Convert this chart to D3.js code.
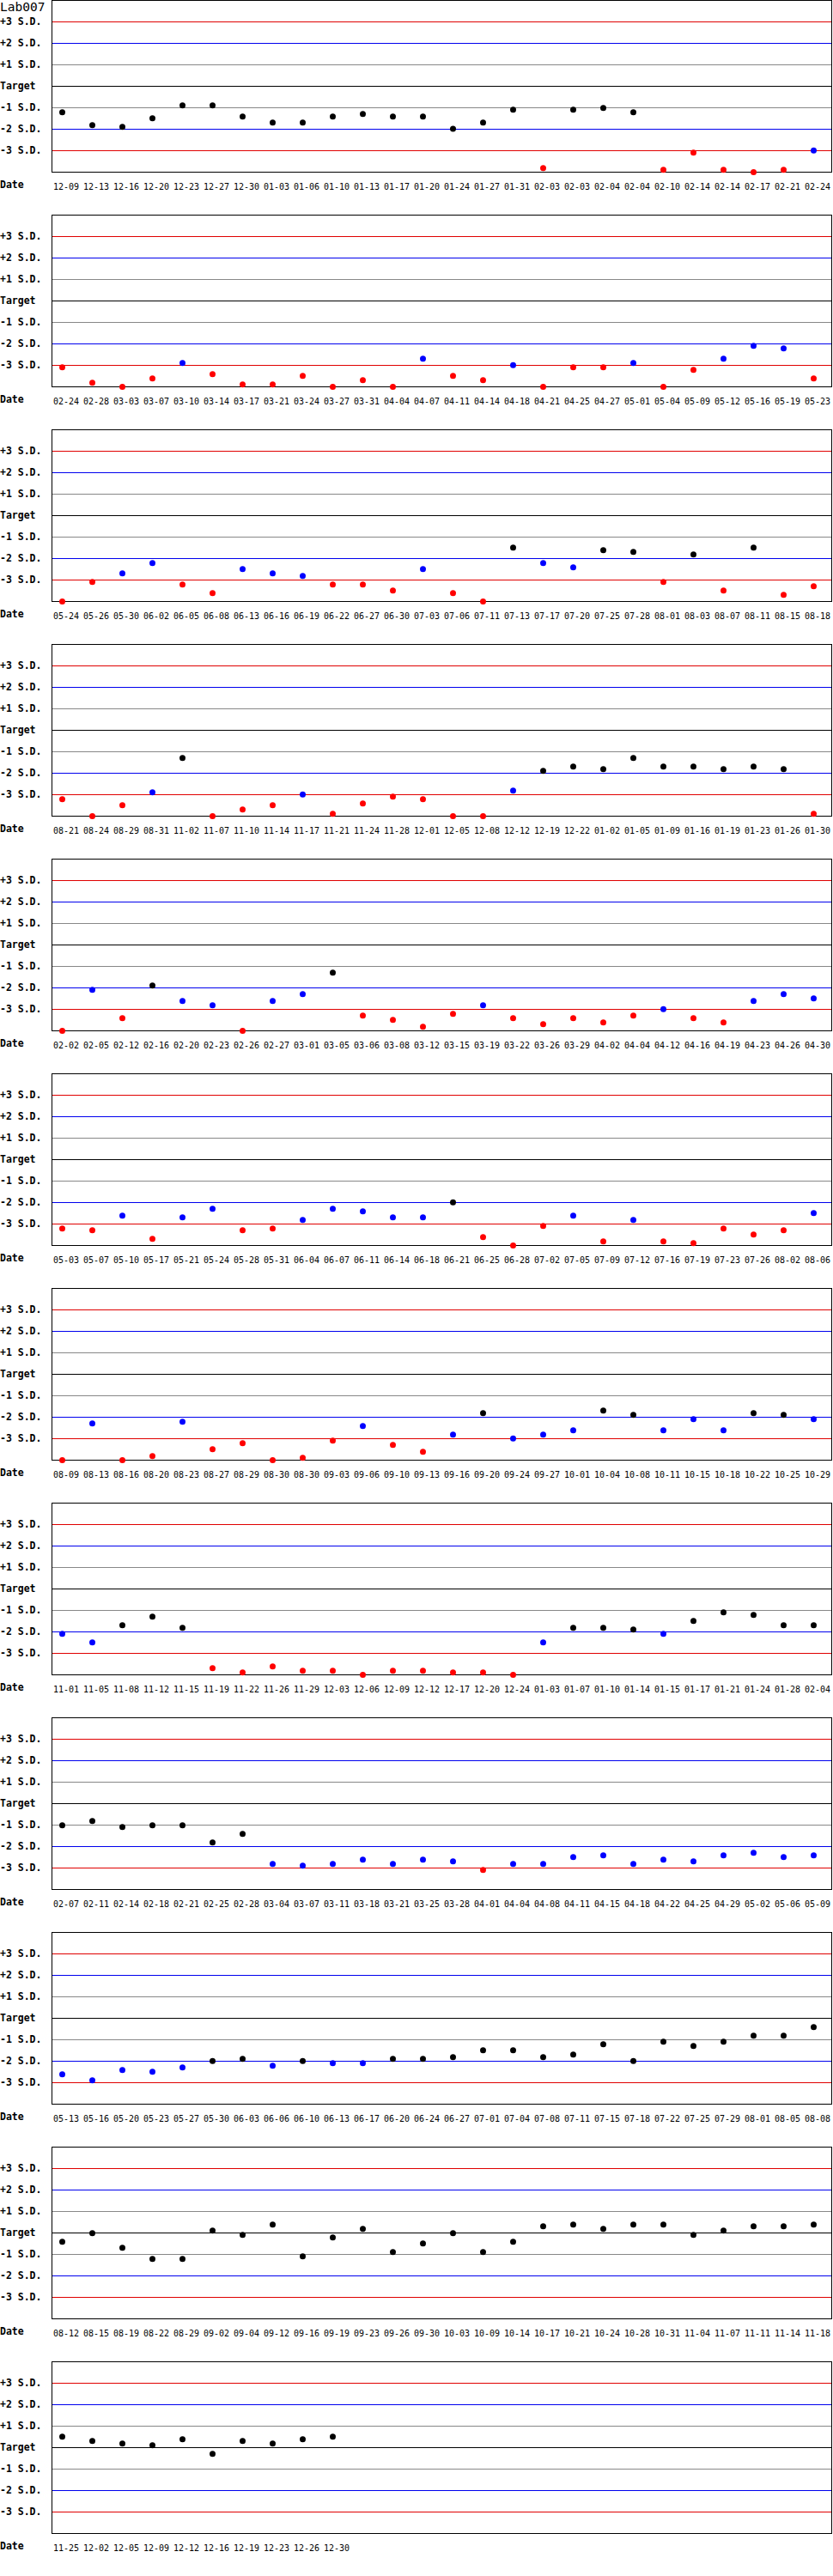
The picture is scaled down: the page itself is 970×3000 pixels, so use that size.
<!DOCTYPE html>
<html>
<head>
<meta charset="utf-8">
<script src="https://cdn.jsdelivr.net/npm/d3@7"></script>
<style>
  html, body { margin: 0; padding: 0; background: #fff; }
  svg { display: block; }
  .tick-label { font-family: "DejaVu Sans Mono", monospace; font-size: 10px; fill: #000; }
  .sd-label { font-family: "DejaVu Sans Mono", monospace; font-size: 11.5px; font-weight: bold; fill: #000; }
  .title { font-family: "DejaVu Sans Mono", monospace; font-size: 14.5px; fill: #000; }
</style>
</head>
<body>
<script>
const chartTitle = "Lab007";
const axisLabel = "Date";
const sdLevels = [3, 2, 1, 0, -1, -2, -3];
const sdLabels = ["+3 S.D.", "+2 S.D.", "+1 S.D.", "Target", "-1 S.D.", "-2 S.D.", "-3 S.D."];

const dates1 = ["12-09","12-13","12-16","12-20","12-23","12-27","12-30","01-03","01-06","01-10","01-13","01-17","01-20","01-24","01-27","01-31","02-03","02-03","02-04","02-04","02-10","02-14","02-14","02-17","02-21","02-24"];
const values1 = [-1.21,-1.81,-1.89,-1.49,-0.89,-0.89,-1.41,-1.69,-1.69,-1.41,-1.29,-1.41,-1.41,-1.98,-1.69,-1.09,-3.81,-1.09,-1.01,-1.21,-3.89,-3.09,-3.89,-4.0,-3.89,-2.99];

const dates2 = ["02-24","02-28","03-03","03-07","03-10","03-14","03-17","03-21","03-24","03-27","03-31","04-04","04-07","04-11","04-14","04-18","04-21","04-25","04-27","05-01","05-04","05-09","05-12","05-16","05-19","05-23"];
const values2 = [-3.09,-3.81,-4.0,-3.61,-2.89,-3.41,-3.89,-3.89,-3.49,-4.0,-3.69,-4.0,-2.69,-3.49,-3.69,-2.99,-4.0,-3.09,-3.09,-2.89,-4.0,-3.21,-2.69,-2.09,-2.21,-3.61];

const dates3 = ["05-24","05-26","05-30","06-02","06-05","06-08","06-13","06-16","06-19","06-22","06-27","06-30","07-03","07-06","07-11","07-13","07-17","07-20","07-25","07-28","08-01","08-03","08-07","08-11","08-15","08-18"];
const values3 = [-4.0,-3.09,-2.69,-2.21,-3.21,-3.61,-2.49,-2.69,-2.81,-3.21,-3.21,-3.49,-2.49,-3.61,-4.0,-1.49,-2.21,-2.41,-1.61,-1.69,-3.09,-1.81,-3.49,-1.49,-3.69,-3.29];

const dates4 = ["08-21","08-24","08-29","08-31","11-02","11-07","11-10","11-14","11-17","11-21","11-24","11-28","12-01","12-05","12-08","12-12","12-19","12-22","01-02","01-05","01-09","01-16","01-19","01-23","01-26","01-30"];
const values4 = [-3.21,-4.0,-3.49,-2.89,-1.29,-4.0,-3.69,-3.49,-2.99,-3.89,-3.41,-3.09,-3.21,-4.0,-4.0,-2.81,-1.89,-1.69,-1.81,-1.29,-1.69,-1.69,-1.81,-1.69,-1.81,-3.89];

const dates5 = ["02-02","02-05","02-12","02-16","02-20","02-23","02-26","02-27","03-01","03-05","03-06","03-08","03-12","03-15","03-19","03-22","03-26","03-29","04-02","04-04","04-12","04-16","04-19","04-23","04-26","04-30"];
const values5 = [-4.0,-2.09,-3.41,-1.89,-2.61,-2.81,-4.0,-2.61,-2.29,-1.29,-3.29,-3.49,-3.81,-3.21,-2.81,-3.41,-3.69,-3.41,-3.61,-3.29,-2.99,-3.41,-3.61,-2.61,-2.29,-2.49];

const dates6 = ["05-03","05-07","05-10","05-17","05-21","05-24","05-28","05-31","06-04","06-07","06-11","06-14","06-18","06-21","06-25","06-28","07-02","07-05","07-09","07-12","07-16","07-19","07-23","07-26","08-02","08-06"];
const values6 = [-3.21,-3.29,-2.61,-3.69,-2.69,-2.29,-3.29,-3.21,-2.81,-2.29,-2.41,-2.69,-2.69,-1.99,-3.61,-4.0,-3.09,-2.61,-3.81,-2.81,-3.81,-3.89,-3.21,-3.49,-3.29,-2.49];

const dates7 = ["08-09","08-13","08-16","08-20","08-23","08-27","08-29","08-30","08-30","09-03","09-06","09-10","09-13","09-16","09-20","09-24","09-27","10-01","10-04","10-08","10-11","10-15","10-18","10-22","10-25","10-29"];
const values7 = [-4.0,-2.29,-4.0,-3.81,-2.21,-3.49,-3.21,-4.0,-3.89,-3.09,-2.41,-3.29,-3.61,-2.81,-1.81,-2.99,-2.81,-2.61,-1.69,-1.89,-2.61,-2.09,-2.61,-1.81,-1.89,-2.09];

const dates8 = ["11-01","11-05","11-08","11-12","11-15","11-19","11-22","11-26","11-29","12-03","12-06","12-09","12-12","12-17","12-20","12-24","01-03","01-07","01-10","01-14","01-15","01-17","01-21","01-24","01-28","02-04"];
const values8 = [-2.09,-2.49,-1.69,-1.29,-1.81,-3.69,-3.89,-3.61,-3.81,-3.81,-4.0,-3.81,-3.81,-3.89,-3.89,-4.0,-2.49,-1.81,-1.81,-1.89,-2.09,-1.49,-1.09,-1.21,-1.69,-1.69];

const dates9 = ["02-07","02-11","02-14","02-18","02-21","02-25","02-28","03-04","03-07","03-11","03-18","03-21","03-25","03-28","04-01","04-04","04-08","04-11","04-15","04-18","04-22","04-25","04-29","05-02","05-06","05-09"];
const values9 = [-1.01,-0.81,-1.09,-1.01,-1.01,-1.81,-1.41,-2.81,-2.89,-2.81,-2.61,-2.81,-2.61,-2.69,-3.09,-2.81,-2.81,-2.49,-2.41,-2.81,-2.61,-2.69,-2.41,-2.29,-2.49,-2.41];

const dates10 = ["05-13","05-16","05-20","05-23","05-27","05-30","06-03","06-06","06-10","06-13","06-17","06-20","06-24","06-27","07-01","07-04","07-08","07-11","07-15","07-18","07-22","07-25","07-29","08-01","08-05","08-08"];
const values10 = [-2.61,-2.89,-2.41,-2.49,-2.29,-1.99,-1.89,-2.21,-1.99,-2.09,-2.09,-1.89,-1.89,-1.81,-1.49,-1.49,-1.81,-1.69,-1.21,-1.99,-1.09,-1.29,-1.09,-0.81,-0.81,-0.41];

const dates11 = ["08-12","08-15","08-19","08-22","08-29","09-02","09-04","09-12","09-16","09-19","09-23","09-26","09-30","10-03","10-09","10-14","10-17","10-21","10-24","10-28","10-31","11-04","11-07","11-11","11-14","11-18"];
const values11 = [-0.41,-0.01,-0.69,-1.21,-1.21,0.11,-0.09,0.39,-1.09,-0.21,0.19,-0.89,-0.49,-0.01,-0.89,-0.41,0.31,0.39,0.19,0.39,0.39,-0.09,0.11,0.31,0.31,0.39];

const dates12 = ["11-25","12-02","12-05","12-09","12-12","12-16","12-19","12-23","12-26","12-30"];
const values12 = [0.51,0.31,0.19,0.11,0.39,-0.29,0.31,0.19,0.39,0.51];

const panelDates = [dates1,dates2,dates3,dates4,dates5,dates6,dates7,dates8,dates9,dates10,dates11,dates12];
const panelValues = [values1,values2,values3,values4,values5,values6,values7,values8,values9,values10,values11,values12];

// ---- layout ----
const W = 970, H = 3000;
const panelStep = 250;
const boxLeft = 60, boxRight = 968, boxH = 200;
const perPanel = 26;

const svg = d3.select("body").append("svg")
  .attr("width", W).attr("height", H)
  .attr("viewBox", `0 0 ${W} ${H}`);
svg.append("rect").attr("width", W).attr("height", H).attr("fill", "#fff");

const y = d3.scaleLinear().domain([4, -4]).range([0.5, boxH + 0.5]);
const x = d3.scaleLinear().domain([0, perPanel - 1]).range([72.5, 72.5 + 35 * (perPanel - 1)]);

const lineColor = v => Math.abs(v) === 3 ? "#e00000" : Math.abs(v) === 2 ? "#0000ee" : Math.abs(v) === 1 ? "#888888" : "#000000";
const dotColor = v => Math.abs(v) > 3 ? "#ff0000" : Math.abs(v) >= 2 ? "#0000ff" : "#000000";

svg.append("text").attr("class", "title").attr("x", 0).attr("y", 13).text(chartTitle);

panelDates.forEach((dates, p) => {
  const vals = panelValues[p];
  const g = svg.append("g").attr("transform", `translate(0,${p * panelStep})`);

  // reference lines
  g.selectAll("line.sd").data(sdLevels).enter().append("line")
    .attr("class", "sd")
    .attr("x1", boxLeft).attr("x2", boxRight)
    .attr("y1", d => y(d)).attr("y2", d => y(d))
    .attr("stroke", d => lineColor(d))
    .attr("stroke-width", 1)
    .attr("shape-rendering", "crispEdges");

  // frame
  g.append("rect")
    .attr("x", boxLeft + 0.5).attr("y", 0.5)
    .attr("width", boxRight - boxLeft).attr("height", boxH)
    .attr("fill", "none").attr("stroke", "#000").attr("stroke-width", 1)
    .attr("shape-rendering", "crispEdges");

  // level labels
  g.selectAll("text.sd").data(sdLevels).enter().append("text")
    .attr("class", "sd-label")
    .attr("x", 0)
    .attr("y", d => y(d) + 3)
    .text((d, i) => sdLabels[i]);

  g.append("text").attr("class", "sd-label").attr("x", 0).attr("y", 219).text(axisLabel);

  // date labels
  g.selectAll("text.tick").data(dates).enter().append("text")
    .attr("class", "tick-label")
    .attr("x", (d, i) => x(i) - 10.5)
    .attr("y", 221)
    .text(d => d);

  // points
  g.selectAll("circle").data(vals).enter().append("circle")
    .attr("cx", (d, i) => x(i))
    .attr("cy", d => y(Math.max(-4, Math.min(4, d))))
    .attr("r", 3.5)
    .attr("fill", d => dotColor(d));
});
</script>
</body>
</html>
